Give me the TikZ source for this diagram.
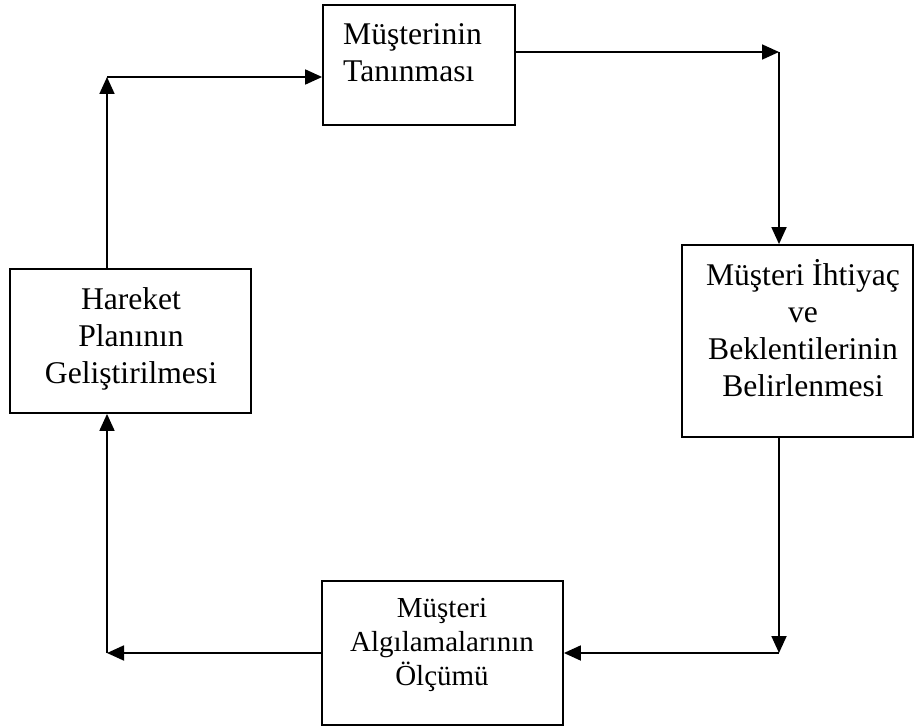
\documentclass[tikz,border=0pt]{standalone}
\usepackage{fontspec}
\setmainfont{Liberation Serif}
\usetikzlibrary{arrows.meta}
\begin{document}
\begin{tikzpicture}[x=1pt,y=-1pt,
  box/.style={draw, line width=1.8pt, inner sep=0pt},
  lbl/.style={inner sep=0pt, font=\fontsize{31.6}{37}\selectfont},
  arr/.style={line width=1.8pt, -{Triangle[length=17pt,width=15pt]}}]
\useasboundingbox (0,0) rectangle (915,727);
% boxes
\node[box, minimum width=192pt, minimum height=120pt] (top) at (419,65) {};
\node[box, minimum width=231pt, minimum height=192pt] (right) at (797.5,341) {};
\node[box, minimum width=241pt, minimum height=144pt] (left) at (130.5,341) {};
\node[box, minimum width=241pt, minimum height=144pt] (bottom) at (442.5,653) {};
% texts
\node[lbl, anchor=base west] (toptext) at (343,45)
  {\begin{tabular}[t]{@{}l@{}}Müşterinin\\Tanınması\end{tabular}};
\node[lbl, anchor=base] (righttext) at (803,285)
  {\begin{tabular}[t]{@{}c@{}}Müşteri İhtiyaç\\ve\\Beklentilerinin\\Belirlenmesi\end{tabular}};
\node[lbl, anchor=base] (lefttext) at (131,309)
  {\begin{tabular}[t]{@{}c@{}}Hareket\\Planının\\Geliştirilmesi\end{tabular}};
\node[lbl, anchor=base, font=\fontsize{29}{34}\selectfont] (bottomtext) at (442,617)
  {\begin{tabular}[t]{@{}c@{}}Müşteri\\Algılamalarının\\Ölçümü\end{tabular}};
% corner points
\coordinate (c1) at (779,52);
\coordinate (c2) at (779,653);
\coordinate (c3) at (107,653);
\coordinate (c4) at (107,77);
% connectors
\draw[arr] (c1 -| top.east) -- (c1);
\draw[arr] (c1) -- (c1 |- right.north);
\draw[arr] (c2 |- right.south) -- (c2);
\draw[arr] (c2) -- (c2 -| bottom.east);
\draw[arr] (c3 -| bottom.west) -- (c3);
\draw[arr] (c3) -- (c3 |- left.south);
\draw[arr] (c4 |- left.north) -- (c4);
\draw[arr] (c4) -- (c4 -| top.west);
\end{tikzpicture}
\end{document}
